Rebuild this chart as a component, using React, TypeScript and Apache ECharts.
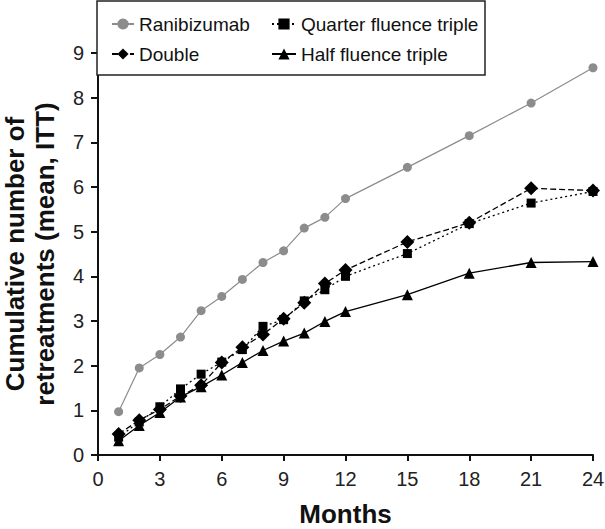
import React, { useEffect, useRef } from "react";
import * as echarts from "echarts";

const months = [1, 2, 3, 4, 5, 6, 7, 8, 9, 10, 11, 12, 15, 18, 21, 24];
const ranibizumab = [0.97, 1.95, 2.25, 2.64, 3.23, 3.55, 3.93, 4.31, 4.57, 5.08, 5.32, 5.74, 6.44, 7.15, 7.88, 8.67];
const doubleTx = [0.47, 0.78, 1.02, 1.32, 1.56, 2.07, 2.41, 2.7, 3.05, 3.41, 3.84, 4.14, 4.77, 5.2, 5.97, 5.92];
const quarterTriple = [0.4, 0.74, 1.08, 1.48, 1.81, 2.08, 2.36, 2.88, 3.03, 3.45, 3.7, 4.0, 4.51, 5.18, 5.64, 5.9];
const halfTriple = [0.32, 0.66, 0.95, 1.3, 1.53, 1.79, 2.07, 2.34, 2.55, 2.73, 2.99, 3.21, 3.59, 4.07, 4.31, 4.33];
const xTicks = [0, 3, 6, 9, 12, 15, 18, 21, 24];
const yTicks = [0, 1, 2, 3, 4, 5, 6, 7, 8, 9];

const FONT = '"Liberation Sans", Arial, sans-serif';
const GRAY = "#8c8c8c";

const pair = (ys: number[]) => months.map((m, i) => [m, ys[i]]);

export default function App() {
  const ref = useRef<HTMLDivElement>(null);
  useEffect(() => {
    if (!ref.current) return;
    const chart = echarts.init(ref.current, undefined, { renderer: "svg" });
    const legendText = { fontSize: 19, color: "#111", fontFamily: FONT, lineHeight: 20 };
    chart.setOption({
      animation: false,
      backgroundColor: "#fff",
      grid: { left: 98, right: 12, top: 53, bottom: 74, containLabel: false, outerBoundsMode: "none" },
      graphic: [
        {
          type: "rect",
          shape: { x: 97, y: 1, width: 388, height: 74 },
          style: { fill: "#fff", stroke: "#222", lineWidth: 1.5 },
          z: 5,
        },
      ],
      legend: [
        {
          data: ["Ranibizumab", "Double"],
          orient: "vertical",
          left: 106,
          top: 9,
          itemWidth: 22,
          itemHeight: 14,
          itemGap: 10,
          z: 10,
          textStyle: legendText,
        },
        {
          data: ["Quarter fluence triple", "Half fluence triple"],
          orient: "vertical",
          left: 266,
          top: 9,
          itemWidth: 24,
          itemHeight: 14,
          itemGap: 10,
          z: 10,
          textStyle: legendText,
        },
      ],
      xAxis: {
        type: "value",
        min: xTicks[0],
        max: xTicks[xTicks.length - 1],
        interval: 3,
        name: "Months",
        nameLocation: "middle",
        nameGap: 46,
        nameTextStyle: { fontSize: 26, fontWeight: "bold", color: "#111", fontFamily: FONT },
        axisLine: { lineStyle: { color: "#111", width: 2 } },
        axisTick: { show: true, length: 6, lineStyle: { color: "#111", width: 2 } },
        axisLabel: { fontSize: 20, color: "#222", fontFamily: FONT, margin: 14 },
        splitLine: { show: false },
      },
      yAxis: {
        type: "value",
        min: yTicks[0],
        max: yTicks[yTicks.length - 1],
        interval: 1,
        name: "Cumulative number of\nretreatments (mean, ITT)",
        nameLocation: "middle",
        nameGap: 38,
        nameRotate: 90,
        nameTextStyle: { fontSize: 26, fontWeight: "bold", color: "#111", fontFamily: FONT, lineHeight: 30 },
        axisLine: { show: true, lineStyle: { color: "#111", width: 2 } },
        axisTick: { show: true, length: 7, lineStyle: { color: "#111", width: 2 } },
        axisLabel: { fontSize: 20, color: "#222", fontFamily: FONT, margin: 14 },
        splitLine: { show: false },
      },
      series: [
        {
          name: "Ranibizumab",
          type: "line",
          data: pair(ranibizumab),
          symbol: "circle",
          symbolSize: 9,
          itemStyle: { color: GRAY },
          lineStyle: { color: GRAY, width: 1.2 },
        },
        {
          name: "Half fluence triple",
          type: "line",
          data: pair(halfTriple),
          symbol: "triangle",
          symbolSize: 11,
          itemStyle: { color: "#000" },
          lineStyle: { color: "#000", width: 1.3 },
        },
        {
          name: "Quarter fluence triple",
          type: "line",
          data: pair(quarterTriple),
          symbol: "rect",
          symbolSize: 9,
          itemStyle: { color: "#000" },
          lineStyle: { color: "#000", width: 1.3, type: [2, 3] },
        },
        {
          name: "Double",
          type: "line",
          data: pair(doubleTx),
          symbol: "diamond",
          symbolSize: 14,
          itemStyle: { color: "#000" },
          lineStyle: { color: "#000", width: 1.3, type: [6, 3] },
        },
      ],
    });
    return () => chart.dispose();
  }, []);
  return <div ref={ref} style={{ width: 605, height: 529, position: "absolute", left: 0, top: 0 }} />;
}
